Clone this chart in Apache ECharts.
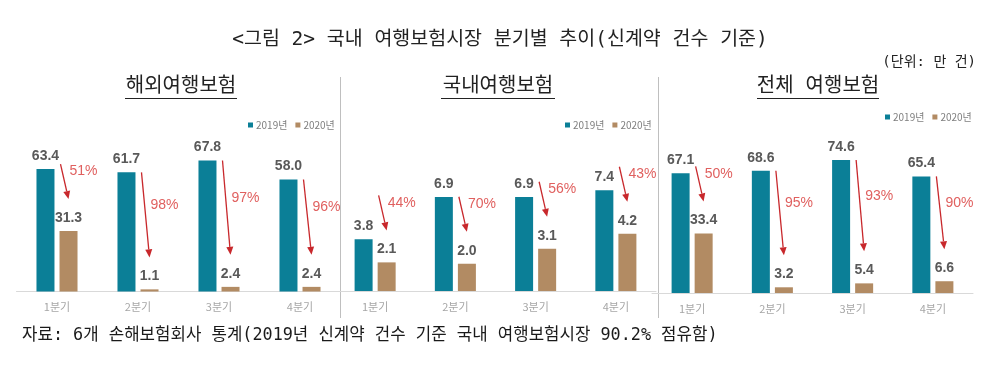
<!DOCTYPE html>
<html>
<head>
<meta charset="utf-8">
<script src="https://cdn.jsdelivr.net/npm/echarts@6/dist/echarts.min.js"></script>
<style>
html,body{margin:0;padding:0;background:#fff;}
#chart{width:1000px;height:372px;}
</style>
</head>
<body>
<div id="chart"></div>
<script>
const quarters = ['1분기', '2분기', '3분기', '4분기'];
const seriesNames = ['2019년', '2020년'];
const panelTitles = ['해외여행보험', '국내여행보험', '전체 여행보험'];

const overseas2019 = [63.4, 61.7, 67.8, 58.0];
const overseas2020 = [31.3, 1.1, 2.4, 2.4];
const overseasDrop = ['51%', '98%', '97%', '96%'];

const domestic2019 = [3.8, 6.9, 6.9, 7.4];
const domestic2020 = [2.1, 2.0, 3.1, 4.2];
const domesticDrop = ['44%', '70%', '56%', '43%'];

const total2019 = [67.1, 68.6, 74.6, 65.4];
const total2020 = [33.4, 3.2, 5.4, 6.6];
const totalDrop = ['50%', '95%', '93%', '90%'];

const mainTitle = '<그림 2> 국내 여행보험시장 분기별 추이(신계약 건수 기준)';
const unitText = '(단위: 만 건)';
const sourceText = '자료: 6개 손해보험회사 통계(2019년 신계약 건수 기준 국내 여행보험시장 90.2% 점유함)';

const C19 = '#0b7f97';
const C20 = '#b28b63';
const LBL = '#595959';
const ARROW = '#c8282c';
const PCT = '#e0605f';
const BAR_W = 18;
const BAR_OFF = 11.5;
const CJK = '"Noto Sans CJK KR", sans-serif';
const MONO = '"DejaVu Sans Mono", "Noto Sans CJK KR", monospace';
const LAT = '"Liberation Sans", Arial, sans-serif';

const panels = [
  {s19: overseas2019, s20: overseas2020, drop: overseasDrop, grid: {left: 16.5, width: 324, top: 137, height: 154.5}, max: 80, legendLeft: 243, legendTop: 115},
  {s19: domestic2019, s20: domestic2020, drop: domesticDrop, grid: {left: 335, width: 321, top: 137, height: 154}, max: 11.3, legendLeft: 560, legendTop: 115},
  {s19: total2019, s20: total2020, drop: totalDrop, grid: {left: 652, width: 321, top: 137, height: 156}, max: 87.5, legendLeft: 880, legendTop: 107}
];

function arrowRender(params, api) {
  const cat = api.value(0);
  const xc = api.coord([cat, 0])[0];
  const y19 = api.coord([cat, api.value(1)])[1];
  const y20 = api.coord([cat, api.value(2)])[1];
  const x20 = xc + BAR_OFF;
  const endX = x20;
  const endY = y20 - 32;
  const startX = x20 - BAR_W / 2 + 1;
  const startY = Math.min(y19, endY - 35);
  const dx = endX - startX, dy = endY - startY;
  const len = Math.sqrt(dx * dx + dy * dy);
  const ux = dx / len, uy = dy / len;
  const headL = 8, headW = 3.5;
  const bx = endX - ux * headL, by = endY - uy * headL;
  const px = -uy, py = ux;
  return {
    type: 'group',
    children: [
      {type: 'line', shape: {x1: startX, y1: startY, x2: bx, y2: by}, style: {stroke: ARROW, lineWidth: 1.3}},
      {type: 'polygon', shape: {points: [[endX, endY], [bx + px * headW, by + py * headW], [bx - px * headW, by - py * headW]]}, style: {fill: ARROW}},
      {type: 'text', x: x20 + 1, y: (startY + endY) / 2 - 10, style: {text: api.value(3), fill: PCT, font: '14px ' + LAT, textAlign: 'left', textVerticalAlign: 'middle'}}
    ]
  };
}

const grids = [], xAxes = [], yAxes = [], series = [], legends = [];
panels.forEach((p, i) => {
  grids.push(Object.assign({containLabel: false}, p.grid));
  xAxes.push({
    type: 'category', gridIndex: i, data: quarters,
    axisLine: {lineStyle: {color: '#d9d9d9', width: 1}},
    axisTick: {show: false},
    axisLabel: {color: '#a6a6a6', fontSize: 11, margin: 10, fontFamily: CJK}
  });
  yAxes.push({type: 'value', gridIndex: i, min: 0, max: p.max, show: false, splitLine: {show: false}});
  const lbl = {show: true, position: 'top', distance: 6, color: LBL, fontSize: 14, fontWeight: 'bold', fontFamily: LAT, formatter: (d) => d.value.toFixed(1)};
  series.push({name: seriesNames[0], type: 'bar', xAxisIndex: i, yAxisIndex: i, data: p.s19, barWidth: BAR_W, barGap: '28%', itemStyle: {color: C19}, label: lbl});
  series.push({name: seriesNames[1], type: 'bar', xAxisIndex: i, yAxisIndex: i, data: p.s20, barWidth: BAR_W, barGap: '28%', itemStyle: {color: C20}, label: lbl});
  series.push({
    type: 'custom', xAxisIndex: i, yAxisIndex: i, renderItem: arrowRender, silent: true, z: 10,
    encode: {x: 0, y: [1, 2]},
    data: quarters.map((q, k) => [k, p.s19[k], p.s20[k], p.drop[k]])
  });
  legends.push({
    data: seriesNames, left: p.legendLeft, top: p.legendTop, icon: 'rect', itemWidth: 5, itemHeight: 5, itemGap: 8,
    textStyle: {color: '#7f7f7f', fontSize: 10, fontFamily: CJK, padding: [0, 0, 0, -2]}
  });
});

const titleCenters = [181, 498, 818];
const titleWidths = [112, 114, 122];
const graphics = [
  {type: 'text', x: 500, y: 40, style: {text: mainTitle, font: '19.5px ' + MONO, fill: '#222', textAlign: 'center', textVerticalAlign: 'middle'}},
  {type: 'text', x: 976, y: 62, style: {text: unitText, font: '14px ' + MONO, fill: '#222', textAlign: 'right', textVerticalAlign: 'middle'}},
  {type: 'text', x: 22, y: 336, style: {text: sourceText, font: '16.8px ' + MONO, fill: '#1a1a1a', textAlign: 'left', textVerticalAlign: 'middle'}},
  {type: 'line', shape: {x1: 340.5, y1: 77, x2: 340.5, y2: 318}, style: {stroke: '#bfbfbf', lineWidth: 1}},
  {type: 'line', shape: {x1: 658.5, y1: 77, x2: 658.5, y2: 318}, style: {stroke: '#bfbfbf', lineWidth: 1}}
];
panelTitles.forEach((t, i) => {
  graphics.push({type: 'text', x: titleCenters[i], y: 87, style: {text: t, font: '20px ' + MONO, fill: '#222', textAlign: 'center', textVerticalAlign: 'middle'}});
  graphics.push({type: 'line', shape: {x1: titleCenters[i] - titleWidths[i] / 2, y1: 98.5, x2: titleCenters[i] + titleWidths[i] / 2, y2: 98.5}, style: {stroke: '#222', lineWidth: 1}});
});

const chart = echarts.init(document.getElementById('chart'), null, {renderer: 'canvas'});
chart.setOption({
  animation: false,
  backgroundColor: '#fff',
  grid: grids, xAxis: xAxes, yAxis: yAxes, series: series, legend: legends,
  graphic: graphics
});
</script>
</body>
</html>
